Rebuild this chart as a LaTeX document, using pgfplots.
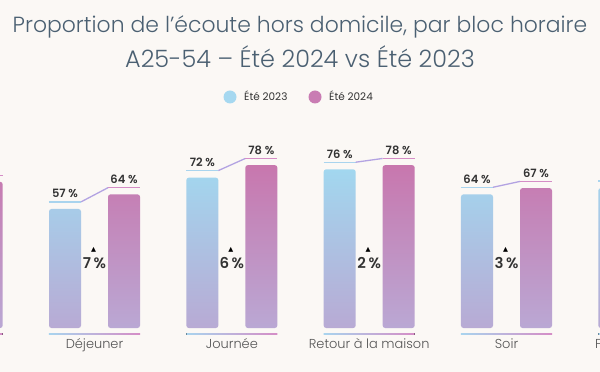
\documentclass[border=0pt]{standalone}
\usepackage{pgfplots}
\pgfplotsset{compat=1.18}
\usepackage{pgfplotstable}
\usepackage{fontspec}
\setmainfont{Poppins}
\newfontfamily\lightfont{Poppins Light}
\newfontfamily\semifont{Poppins SemiBold}
\newfontfamily\symfont{DejaVu Sans}

\definecolor{bg}{HTML}{FBF8F5}
\definecolor{bluetop}{HTML}{A2D7EF}
\definecolor{bluebot}{HTML}{B8AAD4}
\definecolor{pinktop}{HTML}{C877AE}
\definecolor{pinkbot}{HTML}{BAA8D4}
\definecolor{titlec}{HTML}{4B6072}
\definecolor{labc}{HTML}{555555}
\definecolor{valc}{HTML}{333333}
\definecolor{lineblue}{HTML}{A9D4EE}
\definecolor{linemid}{HTML}{B3A3E2}
\definecolor{linepink}{HTML}{D58DC6}
\definecolor{legblue}{HTML}{A6D8F0}
\definecolor{legpink}{HTML}{C97CB3}

\pgfplotstableread{
x a b
0 60 70
1 57 64
2 72 78
3 76 78
4 64 67
5 67 70
}\data

\tikzset{
  catlab/.style={anchor=base, font=\lightfont\fontsize{13}{15}\selectfont, text=labc, inner sep=0pt},
  vallab/.style={anchor=base, font=\semifont\fontsize{11.5}{13}\selectfont, text=valc, inner sep=0pt},
  deltalab/.style={anchor=base, font=\semifont\fontsize{15}{17}\selectfont, text=valc, inner sep=0pt},
  trilab/.style={anchor=base, font=\symfont\fontsize{6.5}{7}\selectfont, text=black, inner sep=0pt},
}

\begin{document}
\begin{tikzpicture}
\useasboundingbox (0,0) rectangle (600bp,372bp);
\fill[bg] (0,0) rectangle (600bp,372bp);
\clip (0,0) rectangle (600bp,372bp);
\begin{axis}[
  at={(0,0)}, anchor=south west, scale only axis,
  width=600bp, height=372bp,
  xmin=0.3118, xmax=4.6809, ymin=-21.07, ymax=157.09,
  hide axis, clip=false,
]
\addplot[ybar, bar width=32bp, bar shift=-29.5bp, draw=none, top color=bluetop, bottom color=bluebot, rounded corners=2.5bp] table[x=x,y=a]{\data};
\addplot[ybar, bar width=32bp, bar shift=29.5bp, draw=none, top color=pinktop, bottom color=pinkbot, rounded corners=2.5bp] table[x=x,y=b]{\data};

\foreach \k/\a/\b/\name in {0/60/70/Total, 1/57/64/Déjeuner, 2/72/78/Journée, 3/76/78/Retour à la maison, 4/64/67/Soir, 5/67/70/Fin de semaine}{
  \pgfmathsetmacro\xa{\k-0.3314}
  \pgfmathsetmacro\xb{\k-0.0983}
  \pgfmathsetmacro\xc{\k+0.0983}
  \pgfmathsetmacro\xd{\k+0.3314}
  \pgfmathsetmacro\xl{\k-0.2148}
  \pgfmathsetmacro\xr{\k+0.2148}
  \pgfmathsetmacro\ya{\a+3.4}
  \pgfmathsetmacro\yb{\b+3.2}
  \pgfmathsetmacro\la{\a+5.3}
  \pgfmathsetmacro\lb{\b+5.1}
  \pgfmathtruncatemacro\d{\b-\a}
  \edef\temp{
    \noexpand\draw[lineblue, line width=1.3bp] (axis cs:\xa,\ya) -- (axis cs:\xb,\ya);
    \noexpand\draw[linemid, line width=1.3bp] (axis cs:\xb,\ya) -- (axis cs:\xc,\yb);
    \noexpand\draw[linepink, line width=1.3bp] (axis cs:\xc,\yb) -- (axis cs:\xd,\yb);
    \noexpand\fill[left color=lineblue, right color=linepink] (axis cs:\xa,-2.6) rectangle (axis cs:\xd,-3.2);
    \noexpand\node[vallab] at (axis cs:\xl,\la) {\a\noexpand\ \noexpand\%};
    \noexpand\node[vallab] at (axis cs:\xr,\lb) {\b\noexpand\ \noexpand\%};
    \noexpand\node[catlab] at (axis cs:\k,-10) {\name};
    \noexpand\node[deltalab] at (axis cs:\k,28.7) {\d\noexpand\,\noexpand\%};
    \noexpand\node[trilab, xshift=-1bp] at (axis cs:\k,36.8) {▲};
  }
  \temp
}
\end{axis}
\node[anchor=base, font=\lightfont\fontsize{22}{26}\selectfont, text=titlec, inner sep=0pt] at (300bp,339bp) {Proportion de l’écoute hors domicile, par bloc horaire};
\node[anchor=base, font=\lightfont\fontsize{24}{28}\selectfont, text=titlec, inner sep=0pt] at (300bp,304bp) {A25-54 – Été 2024 vs Été 2023};
\fill[legblue] (230bp,275bp) circle (6.5bp);
\node[anchor=base west, font=\fontsize{10.5}{12}\selectfont, text=valc, inner sep=0pt] at (244bp,271bp) {Été 2023};
\fill[legpink] (315bp,275bp) circle (6.5bp);
\node[anchor=base west, font=\fontsize{10.5}{12}\selectfont, text=valc, inner sep=0pt] at (329bp,271bp) {Été 2024};
\end{tikzpicture}
\end{document}
